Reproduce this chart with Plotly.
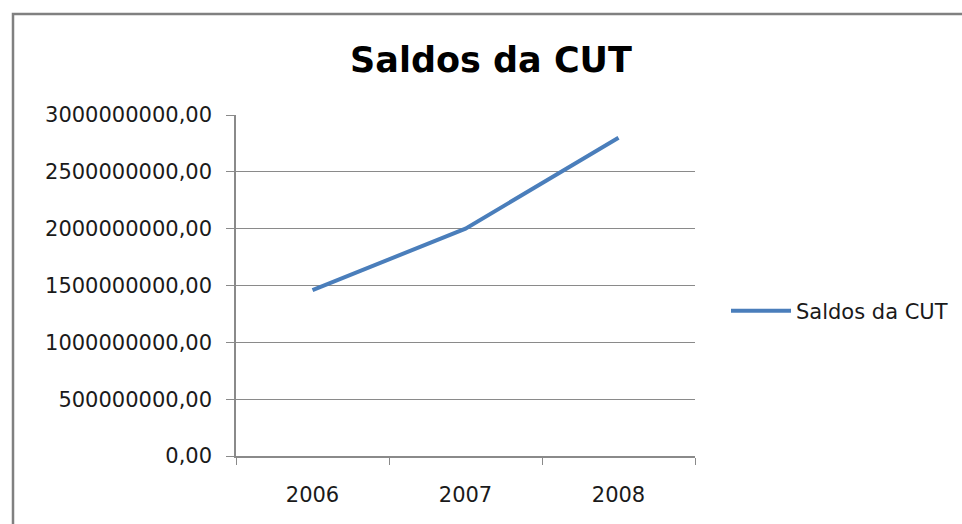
import plotly.graph_objects as go

years = ["2006", "2007", "2008"]
saldos = [1460000000, 2000000000, 2800000000]
y_tick_vals = [0, 500000000, 1000000000, 1500000000, 2000000000, 2500000000, 3000000000]
y_tick_text = ["0,00", "500000000,00", "1000000000,00", "1500000000,00",
               "2000000000,00", "2500000000,00", "3000000000,00"]
series_name = "Saldos da CUT"
title_text = "Saldos da CUT"

FONT = "DejaVu Sans"
GRID = "#8a8a8a"

fig = go.Figure()
fig.add_trace(go.Scatter(
    x=years, y=saldos, mode="lines", name=series_name,
    line=dict(color="#4A7EBB", width=4),
))

W, H = 962, 524
L, R, T, B = 236, 267, 115, 68
pw, ph = W - L - R, H - T - B

def px_to_paper_x(px):
    return (px - L) / pw

def px_to_paper_y(py):
    return (H - B - py) / ph

fig.update_layout(
    width=W, height=H,
    margin=dict(l=L, r=R, t=T, b=B, autoexpand=False),
    paper_bgcolor="white", plot_bgcolor="white",
    font=dict(family=FONT, size=21, color="#1a1a1a"),
    title=dict(text=title_text, x=px_to_paper_x(491), xanchor="center", xref="paper",
               y=1 - 60 / H, yanchor="middle",
               font=dict(family=FONT, size=35, color="#000000", weight="bold")),
    showlegend=True,
    legend=dict(xref="container", yref="container",
                x=726 / W, xanchor="left", y=1 - 311 / H, yanchor="middle",
                font=dict(family=FONT, size=21, color="#1a1a1a"),
                itemwidth=60, bgcolor="rgba(0,0,0,0)"),
    xaxis=dict(type="category", range=[-0.5, 2.5], showgrid=False,
               showline=True, linecolor=GRID, linewidth=1.5,
               ticks="outside", tickson="boundaries", ticklen=7, tickcolor=GRID,
               tickfont=dict(family=FONT, size=21, color="#1a1a1a"),
               ticklabelstandoff=19, zeroline=False),
    yaxis=dict(range=[0, 3000000000], tickvals=y_tick_vals, ticktext=y_tick_text,
               showgrid=True, gridcolor=GRID, gridwidth=1.2,
               showline=True, linecolor=GRID, linewidth=1.5,
               ticks="outside", ticklen=8, tickcolor=GRID,
               tickfont=dict(family=FONT, size=21, color="#1a1a1a"),
               ticklabelstandoff=10, zeroline=False),
    shapes=[dict(type="rect", xref="paper", yref="paper",
                 x0=px_to_paper_x(13), x1=px_to_paper_x(1000),
                 y0=px_to_paper_y(560), y1=px_to_paper_y(14),
                 line=dict(color="#808080", width=2.5), fillcolor="rgba(0,0,0,0)",
                 layer="below")],
)

fig.write_html("out.html", config={"displayModeBar": False},
               post_script="document.body.style.margin='0';document.body.style.overflow='hidden';")
